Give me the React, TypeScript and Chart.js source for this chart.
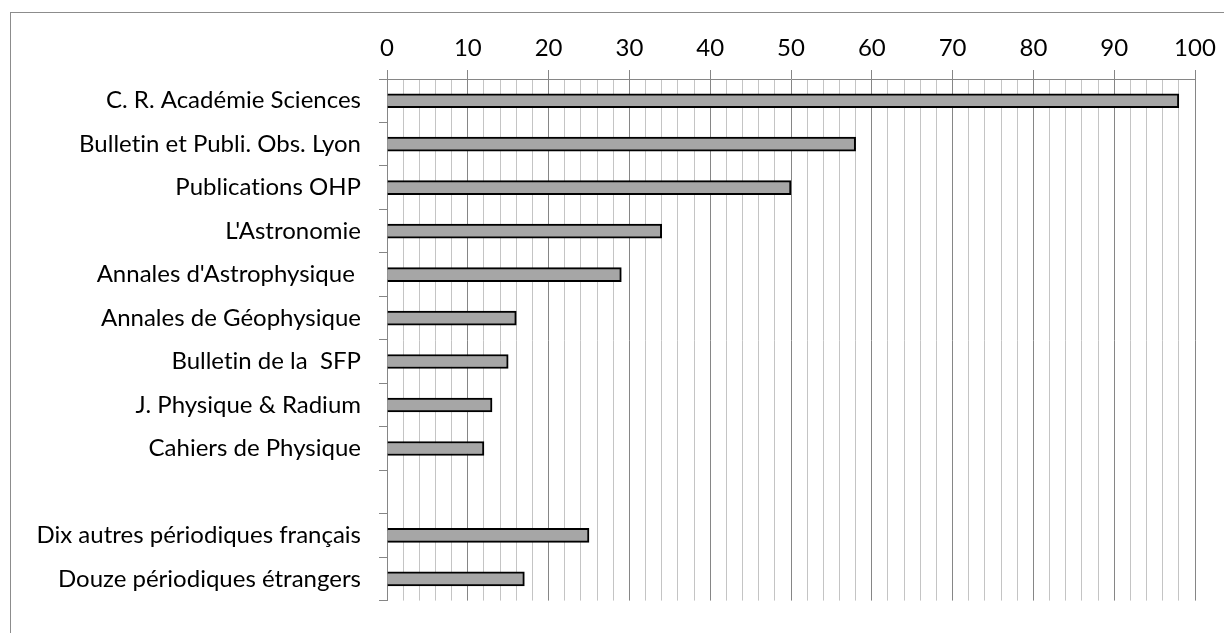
import React, { useEffect, useRef } from "react";
import { Chart, registerables } from "chart.js";

Chart.register(...registerables);

const categories: string[] = [
  "C. R. Académie Sciences",
  "Bulletin et Publi. Obs. Lyon",
  "Publications OHP",
  "L'Astronomie",
  "Annales d'Astrophysique ",
  "Annales de Géophysique",
  "Bulletin de la  SFP",
  "J. Physique & Radium",
  "Cahiers de Physique",
  "",
  "Dix autres périodiques français",
  "Douze périodiques étrangers",
];

const values: (number | null)[] = [98, 58, 50, 34, 29, 16, 15, 13, 12, null, 25, 17];

const xMin = 0;
const xMax = 100;
const xStep = 2;
const labelEvery = 10;

const FONT = "Lato";
const MAJOR = "#868686";
const MINOR = "#c4c4c4";

const noLigatures = {
  id: "noLigatures",
  beforeDraw(chart: any) {
    const ctx = chart.ctx as any;
    try {
      ctx.textRendering = "optimizeSpeed";
      ctx.fontVariantLigatures = "none";
    } catch (e) {
      /* ignore */
    }
  },
};

export default function App() {
  const ref = useRef<HTMLCanvasElement | null>(null);

  useEffect(() => {
    if (!ref.current) return;
    const chart = new Chart(ref.current, {
      type: "bar",
      data: {
        labels: categories,
        datasets: [
          {
            data: values,
            backgroundColor: "#a6a6a6",
            borderColor: "#000000",
            borderWidth: 2,
            barThickness: 14,
          },
        ],
      },
      plugins: [noLigatures],
      options: {
        indexAxis: "y",
        animation: false,
        responsive: false,
        devicePixelRatio: 1,
        layout: { padding: { top: 0, left: 0, right: 37, bottom: 22 } },
        plugins: { legend: { display: false }, tooltip: { enabled: false } },
        scales: {
          x: {
            position: "top",
            min: xMin,
            max: xMax,
            ticks: {
              stepSize: xStep,
              autoSkip: false,
              maxRotation: 0,
              padding: 7,
              color: "#000",
              font: { family: FONT, size: 24 },
              callback: (v: any) => (Number(v) % labelEvery === 0 ? String(v) : ""),
            },
            grid: {
              color: (ctx: any) => (ctx.tick && ctx.tick.value % labelEvery === 0 ? MAJOR : MINOR),
              tickColor: (ctx: any) =>
                ctx.tick && ctx.tick.value % labelEvery === 0 ? MAJOR : "rgba(0,0,0,0)",
              tickLength: 9,
              lineWidth: 1,
            },
            border: { color: MAJOR, width: 1 },
            afterFit: (scale: any) => {
              scale.height = 71;
            },
          },
          y: {
            ticks: {
              autoSkip: false,
              padding: 18,
              color: "#000",
              font: { family: FONT, size: 24 },
            },
            grid: {
              offset: true,
              drawOnChartArea: false,
              tickLength: 8,
              color: MAJOR,
            },
            border: { color: MAJOR, width: 1 },
            afterFit: (scale: any) => {
              scale.width = 379;
            },
          },
        },
      },
    });
    return () => chart.destroy();
  }, []);

  return (
    <div style={{ position: "relative", width: 1224, height: 625 }}>
      <div
        style={{
          position: "absolute",
          left: 2,
          top: 4,
          width: 1222,
          height: 621,
          borderLeft: "1px solid #8c8c8c",
          borderTop: "1px solid #8c8c8c",
          boxSizing: "border-box",
        }}
      />
      <canvas
        ref={ref}
        width={1224}
        height={625}
        style={{ position: "absolute", left: 0, top: 0, display: "block" }}
      />
    </div>
  );
}
